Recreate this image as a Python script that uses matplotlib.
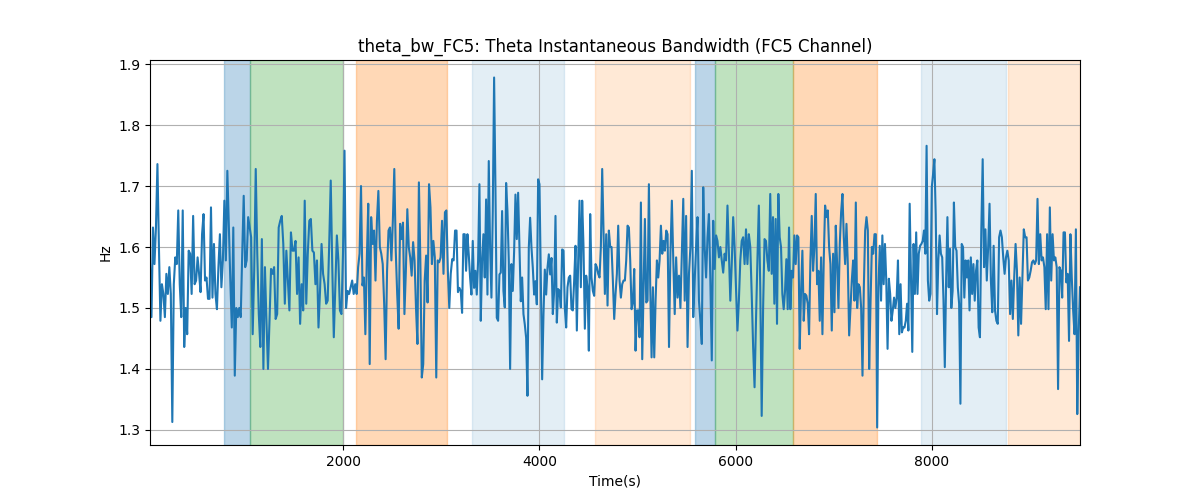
import numpy as np
import matplotlib
matplotlib.use("Agg")
import matplotlib.pyplot as plt

# theta bandwidth, one list per ~1000 s stretch
seg1 = [1.572, 1.485, 1.632, 1.572, 1.632, 1.736, 1.600, 1.479, 1.539, 1.523, 1.485, 1.556,
        1.523, 1.567, 1.523, 1.313, 1.539, 1.583, 1.572, 1.660, 1.539, 1.485, 1.660, 1.436,
        1.500, 1.457, 1.594, 1.589, 1.523, 1.651, 1.539, 1.545, 1.583, 1.556, 1.526, 1.621,
        1.654, 1.545, 1.550, 1.515, 1.515, 1.665, 1.517, 1.605, 1.523, 1.498, 1.567, 1.621,
        1.534, 1.578, 1.676, 1.578, 1.725, 1.632, 1.545, 1.468, 1.632, 1.389, 1.500, 1.485,
        1.500, 1.485, 1.589, 1.684, 1.567, 1.578, 1.649, 1.632]
seg2 = [1.616, 1.457, 1.561, 1.728, 1.589, 1.490, 1.436, 1.613, 1.400, 1.567, 1.479, 1.400,
        1.479, 1.564, 1.556, 1.567, 1.482, 1.490, 1.632, 1.643, 1.651, 1.605, 1.507, 1.594,
        1.545, 1.496, 1.624, 1.594, 1.594, 1.610, 1.523, 1.583, 1.474, 1.539, 1.496, 1.676,
        1.507, 1.589, 1.643, 1.646, 1.594, 1.591, 1.539, 1.578, 1.468, 1.528, 1.605, 1.556,
        1.539, 1.507, 1.512, 1.605, 1.709, 1.567, 1.452, 1.534, 1.619, 1.578, 1.496, 1.490,
        1.589, 1.758, 1.500, 1.528, 1.523, 1.534, 1.545, 1.523]
seg3 = [1.539, 1.523, 1.567, 1.589, 1.700, 1.537, 1.550, 1.457, 1.578, 1.671, 1.408, 1.649,
        1.605, 1.627, 1.545, 1.643, 1.692, 1.600, 1.589, 1.572, 1.507, 1.416, 1.561, 1.627,
        1.632, 1.578, 1.643, 1.728, 1.594, 1.523, 1.466, 1.638, 1.613, 1.640, 1.490, 1.561,
        1.662, 1.600, 1.583, 1.553, 1.608, 1.578, 1.500, 1.441, 1.706, 1.578, 1.386, 1.408,
        1.545, 1.586, 1.509, 1.703, 1.665, 1.572, 1.610, 1.583, 1.386, 1.578, 1.575, 1.583,
        1.643, 1.556, 1.657, 1.660, 1.561, 1.500, 1.556, 1.580, 1.578, 1.627, 1.627, 1.526]
seg4 = [1.533, 1.528, 1.492, 1.621, 1.621, 1.561, 1.621, 1.588, 1.550, 1.522, 1.610, 1.533,
        1.561, 1.522, 1.577, 1.703, 1.479, 1.577, 1.621, 1.550, 1.678, 1.522, 1.741, 1.599,
        1.517, 1.659, 1.878, 1.697, 1.484, 1.479, 1.555, 1.558, 1.659, 1.528, 1.501, 1.705,
        1.659, 1.577, 1.400, 1.572, 1.528, 1.593, 1.686, 1.613, 1.689, 1.599, 1.511, 1.550,
        1.490, 1.473, 1.451, 1.356, 1.599, 1.648, 1.599, 1.566, 1.522, 1.544, 1.506, 1.711,
        1.703, 1.550, 1.383, 1.490, 1.563, 1.522, 1.566, 1.588, 1.555, 1.582, 1.490, 1.528,
        1.651, 1.476, 1.531, 1.528, 1.501, 1.596]
seg5 = [1.594, 1.500, 1.468, 1.534, 1.550, 1.553, 1.498, 1.496, 1.545, 1.602, 1.463, 1.578,
        1.676, 1.534, 1.676, 1.600, 1.466, 1.553, 1.534, 1.430, 1.654, 1.550, 1.528, 1.520,
        1.572, 1.567, 1.556, 1.550, 1.600, 1.728, 1.627, 1.523, 1.621, 1.504, 1.627, 1.600,
        1.600, 1.545, 1.482, 1.523, 1.556, 1.635, 1.545, 1.517, 1.539, 1.545, 1.545, 1.578,
        1.635, 1.632, 1.578, 1.498, 1.509, 1.564, 1.430, 1.496, 1.496, 1.452, 1.673, 1.416,
        1.534, 1.646, 1.509, 1.512, 1.703, 1.534, 1.419, 1.534, 1.419, 1.512, 1.578, 1.550,
        1.578, 1.635, 1.589, 1.610, 1.594, 1.627]
seg6 = [1.621, 1.436, 1.589, 1.676, 1.578, 1.490, 1.583, 1.517, 1.553, 1.500, 1.589, 1.679,
        1.512, 1.651, 1.436, 1.556, 1.600, 1.725, 1.485, 1.545, 1.600, 1.649, 1.512, 1.479,
        1.441, 1.698, 1.600, 1.550, 1.616, 1.654, 1.545, 1.414, 1.643, 1.564, 1.619, 1.610,
        1.583, 1.600, 1.578, 1.558, 1.589, 1.578, 1.668, 1.589, 1.512, 1.572, 1.649, 1.600,
        1.534, 1.463, 1.512, 1.578, 1.610, 1.616, 1.572, 1.629, 1.572, 1.621, 1.600, 1.523,
        1.436, 1.370, 1.479, 1.578, 1.668, 1.534, 1.323, 1.500, 1.613, 1.610, 1.578, 1.561,
        1.687]
seg7 = [1.556, 1.649, 1.507, 1.646, 1.474, 1.687, 1.616, 1.600, 1.523, 1.498, 1.528, 1.580,
        1.498, 1.632, 1.498, 1.561, 1.550, 1.619, 1.572, 1.619, 1.616, 1.433, 1.528, 1.594,
        1.479, 1.523, 1.520, 1.507, 1.457, 1.578, 1.651, 1.561, 1.600, 1.687, 1.539, 1.561,
        1.479, 1.583, 1.457, 1.580, 1.668, 1.649, 1.660, 1.600, 1.572, 1.463, 1.589, 1.493,
        1.635, 1.572, 1.500, 1.605, 1.657, 1.687, 1.616, 1.572, 1.638, 1.572, 1.455, 1.500,
        1.545, 1.578, 1.512, 1.673, 1.500, 1.539, 1.534, 1.500, 1.389, 1.534, 1.627, 1.649,
        1.627, 1.400, 1.507, 1.600, 1.589, 1.621]
seg8 = [1.621, 1.304, 1.534, 1.602, 1.512, 1.619, 1.539, 1.605, 1.545, 1.433, 1.548, 1.523,
        1.479, 1.496, 1.517, 1.500, 1.517, 1.578, 1.457, 1.539, 1.460, 1.468, 1.468, 1.479,
        1.507, 1.463, 1.671, 1.545, 1.428, 1.605, 1.523, 1.624, 1.523, 1.589, 1.602, 1.605,
        1.610, 1.627, 1.589, 1.766, 1.545, 1.512, 1.523, 1.698, 1.720, 1.744, 1.654, 1.490,
        1.578, 1.619, 1.589, 1.583, 1.512, 1.403, 1.545, 1.649, 1.534, 1.597, 1.500, 1.528,
        1.673, 1.600, 1.594, 1.534, 1.507, 1.343, 1.605, 1.600, 1.517, 1.578, 1.550, 1.578,
        1.496, 1.583, 1.523, 1.572, 1.512, 1.561, 1.578, 1.468]
seg9 = [1.452, 1.627, 1.744, 1.567, 1.629, 1.545, 1.600, 1.671, 1.545, 1.493, 1.602, 1.496,
        1.479, 1.474, 1.616, 1.627, 1.616, 1.583, 1.556, 1.583, 1.594, 1.578, 1.490, 1.545,
        1.482, 1.550, 1.605, 1.561, 1.455, 1.550, 1.474, 1.550, 1.629, 1.616, 1.616, 1.545,
        1.550, 1.561, 1.575, 1.578, 1.572, 1.578, 1.679, 1.572, 1.621, 1.578, 1.583, 1.567,
        1.498, 1.621, 1.498, 1.665, 1.545, 1.621, 1.578, 1.583, 1.567, 1.367, 1.567, 1.561,
        1.517, 1.624, 1.624, 1.542, 1.556, 1.446, 1.621, 1.550, 1.496, 1.457, 1.629, 1.326,
        1.457, 1.534]
segments = [seg1, seg2, seg3, seg4, seg5, seg6, seg7, seg8, seg9]
# time (s) at which each stretch starts; last entry is the end of the recording
seg_edges = [30, 1061, 2122, 3184, 4245, 5306, 6367, 7429, 8490, 9510]

# shaded intervals: (start, end, colour, alpha)
span_start = [787, 1053, 2132, 3317, 4563, 5586, 5792, 6588, 7893, 8775]
span_end = [1053, 1999, 3056, 4253, 5530, 5792, 6588, 7440, 8754, 9510]
span_color = ["C0", "C2", "C1", "C0", "C1", "C0", "C2", "C1", "C0", "C1"]
span_alpha = [0.3, 0.3, 0.3, 0.12, 0.17, 0.3, 0.3, 0.3, 0.12, 0.17]


def main():
    t_parts = []
    for i, seg in enumerate(segments):
        last = i == len(segments) - 1
        t_parts.append(np.linspace(seg_edges[i], seg_edges[i + 1], len(seg), endpoint=last))
    t = np.concatenate(t_parts)
    bw = np.concatenate([np.array(s) for s in segments])

    fig, ax = plt.subplots(figsize=(12, 5), dpi=100)
    for s, e, c, a in zip(span_start, span_end, span_color, span_alpha):
        ax.axvspan(s, e, color=c, alpha=a)
    ax.plot(t, bw, color="C0")
    ax.set_xlim(t[0], t[-1])
    ax.grid(True)
    ax.set_title("theta_bw_FC5: Theta Instantaneous Bandwidth (FC5 Channel)")
    ax.set_xlabel("Time(s)")
    ax.set_ylabel("Hz")
    fig.savefig("out.png")


if __name__ == "__main__":
    main()
